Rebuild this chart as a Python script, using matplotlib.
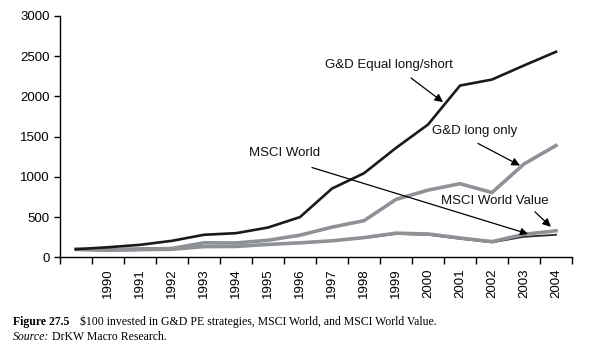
import matplotlib
matplotlib.use("Agg")
import matplotlib.pyplot as plt

years = ["", "1990", "1991", "1992", "1993", "1994", "1995", "1996", "1997",
         "1998", "1999", "2000", "2001", "2002", "2003", "2004"]
equal_ls = [100, 125, 155, 205, 280, 300, 370, 500, 855, 1045, 1360, 1650, 2135, 2210, 2385, 2555]
long_only = [100, 90, 100, 110, 180, 178, 212, 275, 375, 455, 720, 835, 915, 805, 1160, 1390]
msci_world = [100, 105, 110, 115, 140, 142, 160, 180, 205, 240, 290, 280, 230, 185, 255, 280]
msci_value = [100, 88, 95, 100, 133, 135, 160, 180, 205, 245, 300, 290, 240, 195, 285, 330]

x = list(range(len(years)))

plt.rcParams['font.family'] = ['Liberation Sans', 'DejaVu Sans']
fig = plt.figure(figsize=(6.07, 3.57), dpi=100)
ax = fig.add_axes([60/607, 1 - 257.3/357, 512/607, 241.3/357])

ax.plot(x, msci_world, color='#2a2a2a', lw=1.3, zorder=2)
ax.plot(x, msci_value, color='#8e9297', lw=2.6, zorder=3)
ax.plot(x, long_only, color='#8e9297', lw=2.6, zorder=3)
ax.plot(x, equal_ls, color='#1a1a1a', lw=1.9, zorder=4)

ax.set_xlim(-0.5, len(years) - 0.5)
ax.set_ylim(0, 3000)
ax.set_yticks(range(0, 3001, 500))
ax.set_xticks([i - 0.5 for i in range(len(years) + 1)])
ax.set_xticklabels([])
ax.set_xticks(x[1:], minor=True)
ax.set_xticklabels(years[1:], minor=True, rotation=90)
ax.tick_params(axis='x', which='major', length=5, width=1, direction='out')
ax.tick_params(axis='x', which='minor', length=0, pad=8, labelsize=9.5)
ax.tick_params(axis='y', length=4, width=1, labelsize=9.5)
for s in ['top', 'right']:
    ax.spines[s].set_visible(False)
for s in ['left', 'bottom']:
    ax.spines[s].set_linewidth(1)

# labels with arrows
labels = [
    ("G&D Equal long/short", (9.78, 2391), (10.47, 2229), (11.47, 1929), 12),
    ("G&D long only", (12.45, 1566), (12.56, 1416), (13.875, 1141), 12),
    ("MSCI World", (6.53, 1291), (7.375, 1116), (14.125, 291), 11),
    ("MSCI World Value", (13.08, 704), (14.34, 566), (14.84, 379), 12),
]
for txt, pos, tail, head, ms in labels:
    ax.text(pos[0], pos[1], txt, ha='center', va='center', fontsize=9.5, color='#111111')
    ax.annotate("", xy=head, xytext=tail,
                arrowprops=dict(arrowstyle='-|>', color='black', lw=0.9,
                                mutation_scale=ms, shrinkA=0, shrinkB=0), zorder=5)

cap = dict(fontfamily='Liberation Serif', fontsize=8.5, va='center')
fig.text(13/607, 1 - 322/357, "Figure 27.5", fontweight='bold', **cap)
fig.text(80/607, 1 - 322/357, "$100 invested in G&D PE strategies, MSCI World, and MSCI World Value.", **cap)
fig.text(13/607, 1 - 337/357, "Source:", fontstyle='italic', **cap)
fig.text(52/607, 1 - 337/357, "DrKW Macro Research.", **cap)

fig.savefig("out.png", dpi=100)
